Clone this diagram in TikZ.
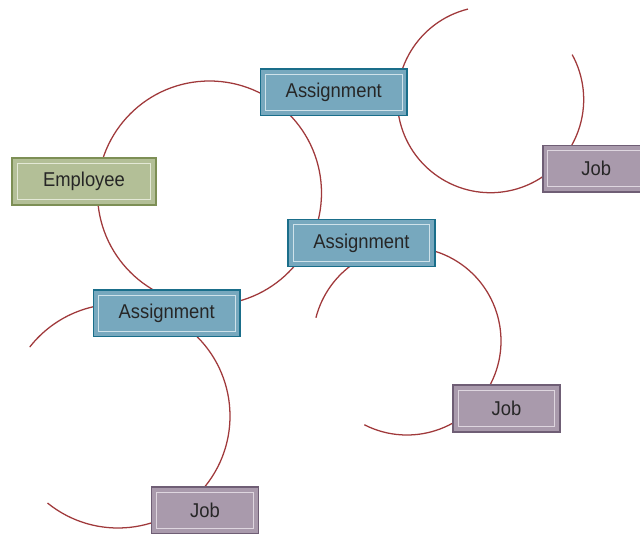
\documentclass[tikz,border=0pt]{standalone}
\usepackage{fontspec}
\newfontfamily\boxfont[FakeStretch=0.92]{Liberation Sans}
\definecolor{arcc}{HTML}{A0393B}
\definecolor{asgfill}{HTML}{77A8BE}
\definecolor{asgline}{HTML}{1A6E8A}
\definecolor{asgin}{HTML}{CFE2EA}
\definecolor{empfill}{HTML}{B3BF97}
\definecolor{empline}{HTML}{7D8F55}
\definecolor{empin}{HTML}{E3E8D6}
\definecolor{jobfill}{HTML}{A99AAC}
\definecolor{jobline}{HTML}{6F5E75}
\definecolor{jobin}{HTML}{DED6DF}
\definecolor{textc}{HTML}{262626}
\tikzset{
  boxbase/.style={draw, line width=1.1pt, minimum height=35pt, inner sep=0pt,
    font=\boxfont\fontsize{15pt}{18pt}\selectfont, text=textc,
    path picture={\draw[line width=0.7pt, draw=#1]
      ([shift={(3.8pt,-3.8pt)}]path picture bounding box.north west) rectangle
      ([shift={(-3.8pt,3.8pt)}]path picture bounding box.south east);}},
  asgbox/.style={boxbase=asgin, fill=asgfill, draw=asgline, minimum width=110pt},
  empbox/.style={boxbase=empin, fill=empfill, draw=empline, minimum width=108pt},
  jobbox/.style={boxbase=jobin, fill=jobfill, draw=jobline, minimum width=80pt},
  rel/.style={draw=arcc, line width=0.95pt}
}
\begin{document}
\begin{tikzpicture}[x=0.75pt, y=0.75pt]
\clip (0,0) rectangle (640,-534);
\fill[white] (0,0) rectangle (640,-534);
% circle centres
\coordinate (c1) at (209.5,-193);
\coordinate (c2) at (490.5,-99.5);
\coordinate (c3) at (407,-341);
\coordinate (c4) at (118,-416);
% relationship arcs
\draw[rel] (c1) circle[radius=112];
\draw[rel] (c2) ++(104:93.2) arc[start angle=104, end angle=388.8, radius=93.2];
\draw[rel] (c3) ++(243:94) arc[start angle=243, end angle=525.7, radius=94];
\draw[rel] (c4) ++(231:112) arc[start angle=231, end angle=502, radius=112];
% entities
\node[empbox] (emp) at (84,-181.5) {Employee};
\node[asgbox] (a1) at (333.8,-92.3) {Assignment};
\node[asgbox] (a2) at (361.5,-243) {Assignment};
\node[asgbox] (a3) at (166.7,-313.3) {Assignment};
\node[jobbox] (j1) at (596.2,-168.7) {Job};
\node[jobbox] (j2) at (506.5,-408.5) {Job};
\node[jobbox] (j3) at (205,-510.5) {Job};
\end{tikzpicture}
\end{document}
